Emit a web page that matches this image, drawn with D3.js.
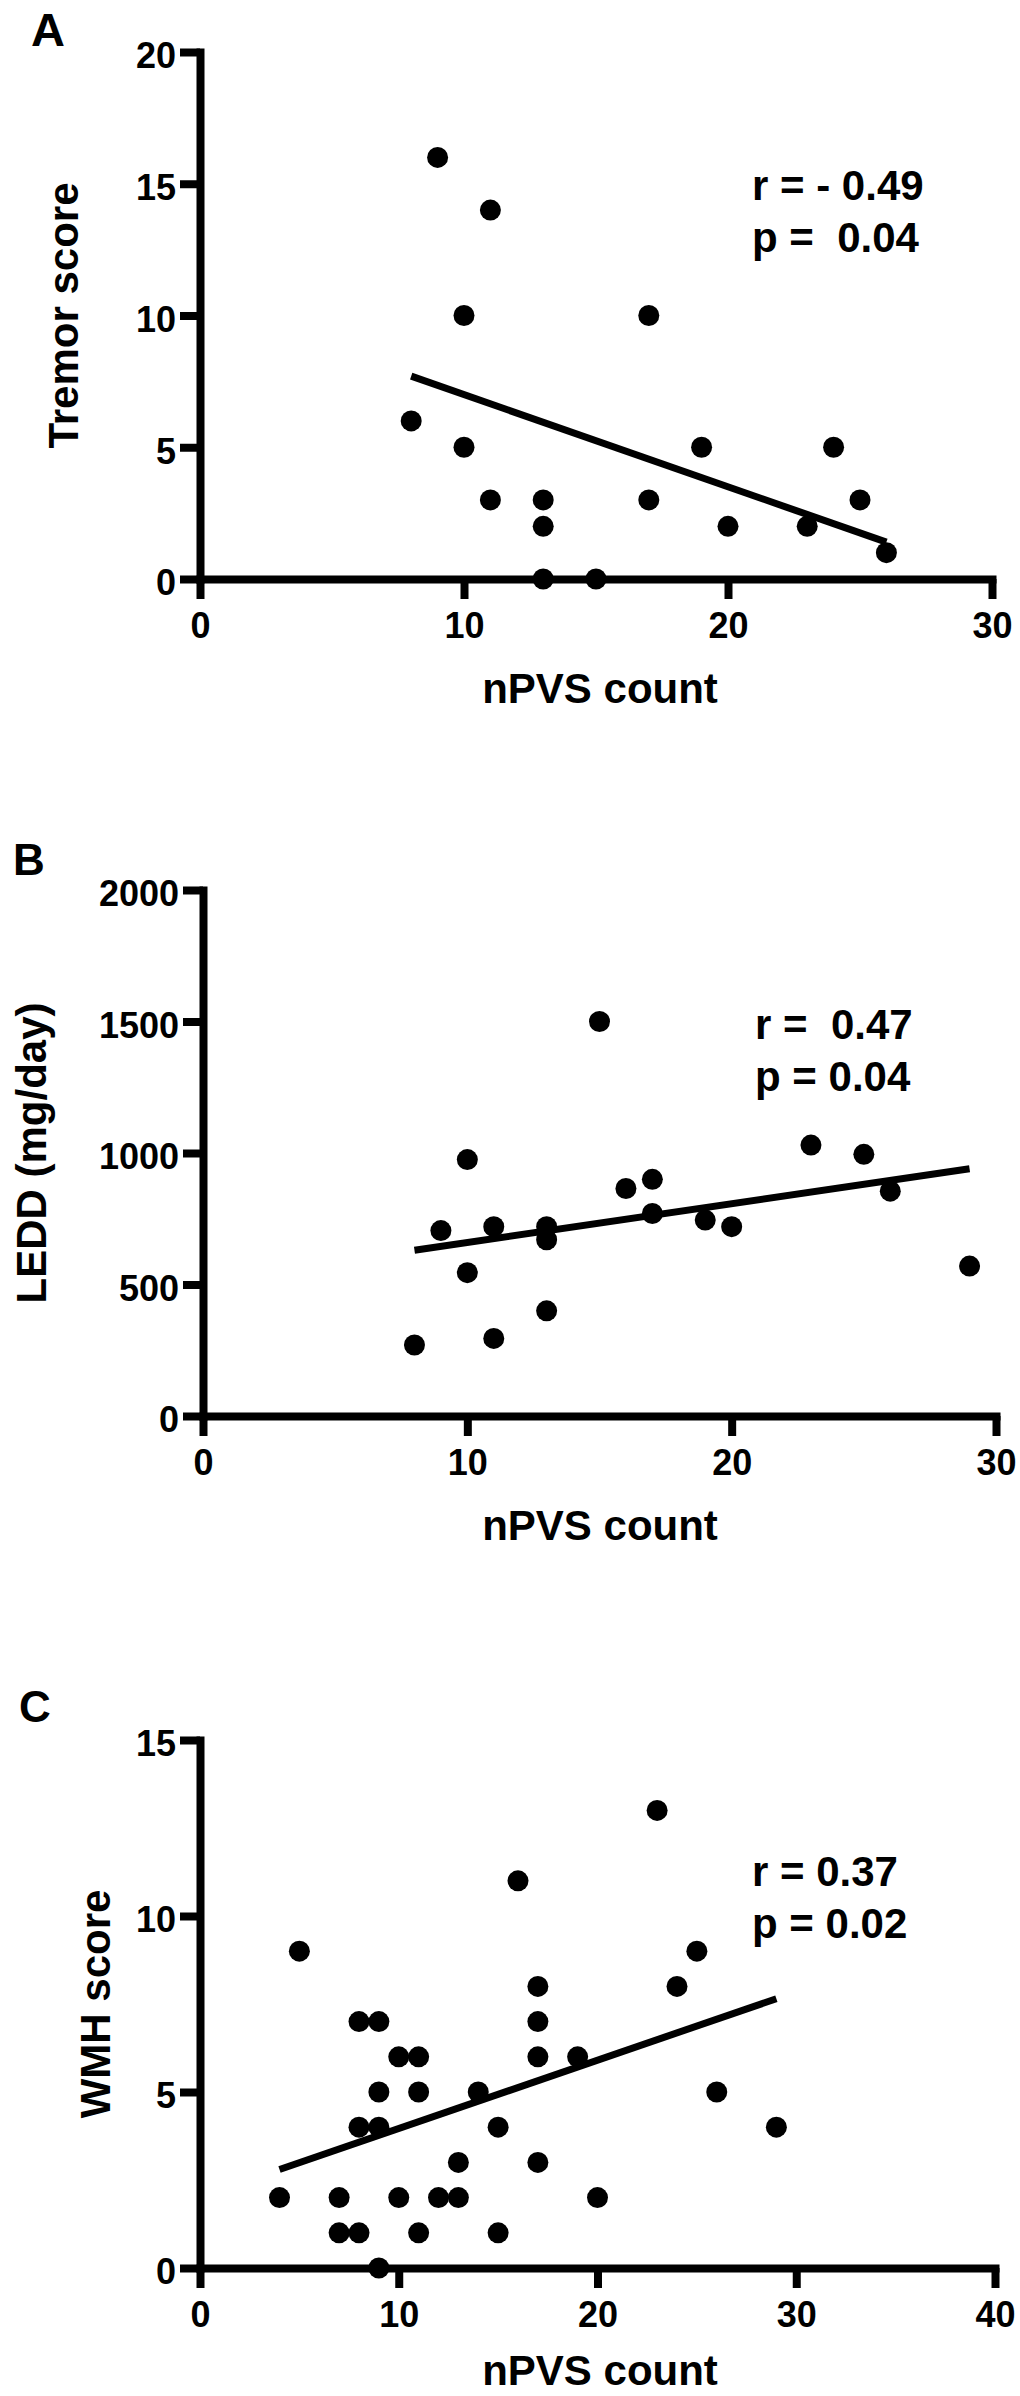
<!DOCTYPE html>
<html>
<head>
<meta charset="utf-8">
<script src="https://cdn.jsdelivr.net/npm/d3@7/dist/d3.min.js"></script>
<style>
  html, body { margin: 0; padding: 0; background: #fff; }
  svg { display: block; }
  text { font-family: "Liberation Sans", Arial, sans-serif; font-weight: bold; fill: #000; }
</style>
</head>
<body>
<svg id="chart" width="1020" height="2396"></svg>
<script>
// ---------- DATA ----------
// Panel A: Tremor score vs nPVS count
const aX = [8, 9, 10, 10, 11, 11, 13, 13, 13, 15, 17, 17, 19, 20, 23, 24, 25, 26];
const aY = [6, 16, 10, 5, 14, 3, 3, 2, 0, 0, 10, 3, 5, 2, 2, 5, 3, 1];
const aFitX = [8, 26];
const aFitY = [7.7, 1.4];
const aXTicks = [0, 10, 20, 30];
const aYTicks = [0, 5, 10, 15, 20];
const aStats = ["r = - 0.49", "p =  0.04"];

// Panel B: LEDD vs nPVS count
const bX = [8, 9, 10, 10, 11, 11, 13, 13, 13, 15, 16, 17, 17, 19, 20, 23, 25, 26, 29];
const bY = [270, 705, 975, 545, 720, 295, 720, 670, 400, 1500, 865, 900, 770, 745, 720, 1030, 995, 855, 570];
const bFitX = [8, 29];
const bFitY = [630, 940];
const bXTicks = [0, 10, 20, 30];
const bYTicks = [0, 500, 1000, 1500, 2000];
const bStats = ["r =  0.47", "p = 0.04"];

// Panel C: WMH score vs nPVS count
const cX = [4, 5, 7, 7, 8, 8, 8, 9, 9, 9, 9, 10, 10, 11, 11, 11, 12, 13, 13, 14, 15, 15, 16, 17, 17, 17, 17, 19, 20, 23, 24, 25, 26, 29];
const cY = [2, 9, 2, 1, 1, 7, 4, 7, 5, 4, 0, 6, 2, 6, 5, 1, 2, 3, 2, 5, 4, 1, 11, 8, 7, 6, 3, 6, 2, 13, 8, 9, 5, 4];
const cFitX = [4, 29];
const cFitY = [2.8, 7.65];
const cXTicks = [0, 10, 20, 30, 40];
const cYTicks = [0, 5, 10, 15];
const cStats = ["r = 0.37", "p = 0.02"];

const xLabel = "nPVS count";

// ---------- LAYOUT ----------
const panels = [
  { letter: "A", xs: aX, ys: aY, fx: aFitX, fy: aFitY, xt: aXTicks, yt: aYTicks, stats: aStats,
    yLabel: "Tremor score", xDom: [0, 30], yDom: [0, 20],
    x0: 200, x1: 992, yTop: 52, yBot: 579,
    letterX: 31, letterY: 46, letterSize: 47,
    yLabX: 78, xLabOff: 124, statX: 752, statY: 200 },
  { letter: "B", xs: bX, ys: bY, fx: bFitX, fy: bFitY, xt: bXTicks, yt: bYTicks, stats: bStats,
    yLabel: "LEDD (mg/day)", xDom: [0, 30], yDom: [0, 2000],
    x0: 203, x1: 996, yTop: 890, yBot: 1416,
    letterX: 13, letterY: 875, letterSize: 44,
    yLabX: 46, xLabOff: 124, statX: 755, statY: 1039 },
  { letter: "C", xs: cX, ys: cY, fx: cFitX, fy: cFitY, xt: cXTicks, yt: cYTicks, stats: cStats,
    yLabel: "WMH score", xDom: [0, 40], yDom: [0, 15],
    x0: 200, x1: 995, yTop: 1740, yBot: 2268,
    letterX: 19, letterY: 1722, letterSize: 44,
    yLabX: 110, xLabOff: 117, statX: 752, statY: 1886 }
];

const svg = d3.select("#chart");
svg.append("rect").attr("width", 1020).attr("height", 2396).attr("fill", "#fff");

const AXW = 8;

panels.forEach(p => {
  const x = d3.scaleLinear().domain(p.xDom).range([p.x0, p.x1]);
  const y = d3.scaleLinear().domain(p.yDom).range([p.yBot, p.yTop]);
  const g = svg.append("g");

  // Panel letter
  g.append("text").attr("x", p.letterX).attr("y", p.letterY)
    .attr("font-size", p.letterSize).text(p.letter);

  // Y axis
  const yAxis = d3.axisLeft(y).tickValues(p.yt).tickSize(20).tickSizeOuter(0).tickPadding(4)
    .tickFormat(d3.format("d"));
  const ya = g.append("g").attr("transform", `translate(${p.x0},0)`).call(yAxis);
  // X axis
  const xAxis = d3.axisBottom(x).tickValues(p.xt).tickSize(20).tickSizeOuter(0).tickPadding(13)
    .tickFormat(d3.format("d"));
  const xa = g.append("g").attr("transform", `translate(0,${p.yBot})`).call(xAxis);

  [ya, xa].forEach(a => {
    a.select(".domain").attr("stroke", "#000").attr("stroke-width", AXW).attr("stroke-linecap", "square");
    a.selectAll(".tick line").attr("stroke", "#000").attr("stroke-width", AXW);
    a.selectAll(".tick text").attr("font-size", 36).attr("fill", "#000")
      .attr("font-family", "'Liberation Sans', Arial, sans-serif").attr("font-weight", "bold");
  });
  ya.selectAll(".tick text").attr("dy", "0.44em");

  // Axis titles
  g.append("text")
    .attr("transform", `translate(${p.yLabX},${(p.yTop + p.yBot) / 2}) rotate(-90)`)
    .attr("text-anchor", "middle").attr("font-size", 42).text(p.yLabel);
  g.append("text").attr("x", 600).attr("y", p.yBot + p.xLabOff)
    .attr("text-anchor", "middle").attr("font-size", 42).text(xLabel);

  // Points
  g.append("g").selectAll("circle").data(p.xs.map((v, i) => [v, p.ys[i]])).join("circle")
    .attr("cx", d => x(d[0])).attr("cy", d => y(d[1])).attr("r", 10.5).attr("fill", "#000");

  // Fit line
  const line = d3.line().x(d => x(d[0])).y(d => y(d[1]));
  g.append("path").datum(p.fx.map((v, i) => [v, p.fy[i]]))
    .attr("d", line).attr("fill", "none").attr("stroke", "#000").attr("stroke-width", 7);

  // Stats
  p.stats.forEach((s, i) => {
    g.append("text").attr("x", p.statX).attr("y", p.statY + i * 52)
      .attr("font-size", 42).attr("xml:space", "preserve").style("white-space", "pre").text(s);
  });
});
</script>
</body>
</html>
